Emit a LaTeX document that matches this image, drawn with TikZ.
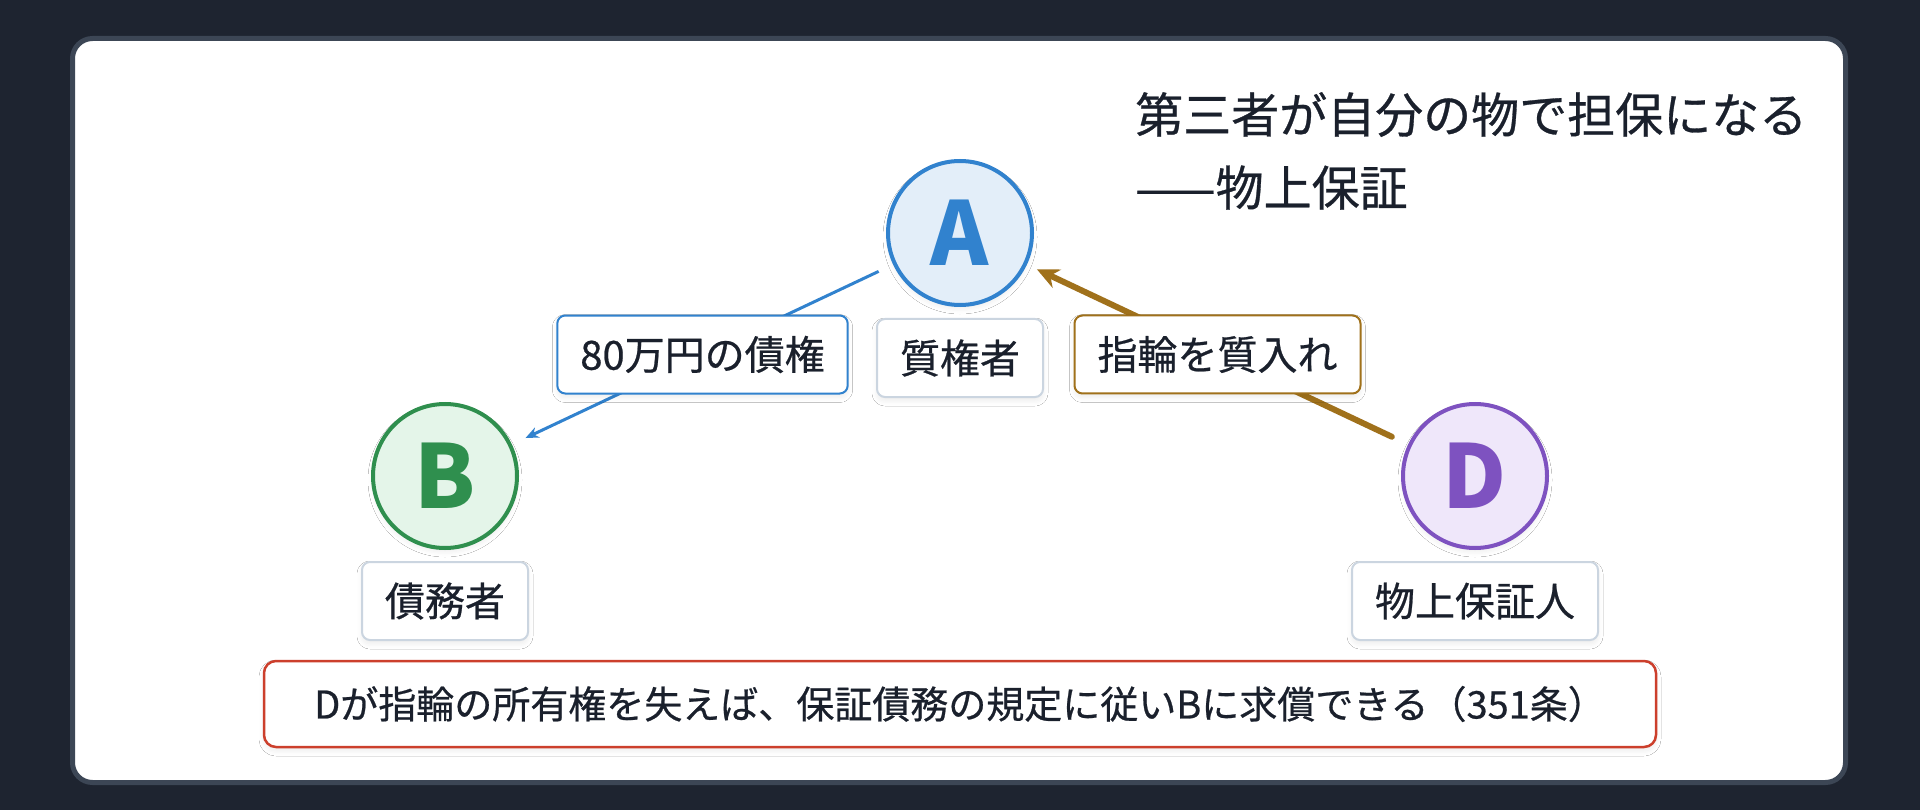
\documentclass[tikz,border=0pt]{standalone}
\usepackage{fontspec}
\setmainfont{Noto Sans CJK JP}
\newfontfamily\jpmedium{Noto Sans CJK JP}[FakeBold=0.6]
\usetikzlibrary{positioning,arrows.meta,shadows.blur}

\definecolor{pagebg}{HTML}{1E2430}
\definecolor{cardedge}{HTML}{3C4655}
\definecolor{ink}{HTML}{1A202C}
\definecolor{ablue}{HTML}{3182CE}
\definecolor{abluefill}{HTML}{E3EEF9}
\definecolor{bgreen}{HTML}{2F8F4E}
\definecolor{bgreenfill}{HTML}{E4F5E9}
\definecolor{dpurple}{HTML}{7E52C0}
\definecolor{dpurplefill}{HTML}{EFE7FA}
\definecolor{pawn}{HTML}{A0711B}
\definecolor{warnred}{HTML}{CC3F2C}
\definecolor{tagedge}{HTML}{CBD5E0}

\tikzset{
  softshadow/.style={blur shadow={shadow xshift=0pt, shadow yshift=-4pt, shadow blur radius=5pt, shadow opacity=7}},
  party/.style={circle, line width=4pt, minimum size=144pt, inner sep=0pt, font=\fontsize{88}{88}\selectfont\bfseries, softshadow},
  roletag/.style={draw=tagedge, fill=white, line width=2pt, rounded corners=8pt, minimum height=78pt, inner xsep=23pt, text=ink, font=\jpmedium\fontsize{40}{40}\selectfont, softshadow},
  edgetag/.style={roletag, midway},
}

\begin{document}
\begin{tikzpicture}[x=1pt, y=-1pt]
  \useasboundingbox (0,0) rectangle (1920,810);
  \fill[pagebg] (0,0) rectangle (1920,810);
  \draw[fill=white, draw=cardedge, line width=5pt, rounded corners=20pt] (72.5,38.5) rectangle (1845.5,782.5);

  % parties
  \node[party, draw=ablue, fill=abluefill, text=ablue] (A) at (960,233) {A};
  \node[party, draw=bgreen, fill=bgreenfill, text=bgreen] (B) at (445,476) {B};
  \node[party, draw=dpurple, fill=dpurplefill, text=dpurple] (D) at (1475,476) {D};

  % claim and pledge
  \draw[ablue, line width=3pt, -{Stealth[length=13pt, width=11pt]}, shorten <=16pt, shorten >=15pt]
    (A) -- node[edgetag, draw=ablue] {80万円の債権} (B);
  \draw[pawn, line width=6pt, line cap=round, -{Stealth[length=22pt, width=20pt]}, shorten <=18pt, shorten >=11pt]
    (D) -- node[edgetag, draw=pawn] {指輪を質入れ} (A);

  \node[roletag, below=11pt of A] (Arole) {質権者};
  \node[roletag, below=11pt of B] (Brole) {債務者};
  \node[roletag, below=11pt of D] (Drole) {物上保証人};

  % title
  \node[anchor=north west, align=left, inner sep=0pt, text=ink, font=\jpmedium\fontsize{48}{73}\selectfont] (title) at (1135,92)
    {第三者が自分の物で担保になる\\——物上保証};

  % note
  \node[draw=warnred, fill=white, line width=2.5pt, rounded corners=12pt, minimum width=1392pt, minimum height=86pt,
        text=ink, font=\jpmedium\fontsize{38}{38}\selectfont, softshadow] (note) at (960,704)
    {Dが指輪の所有権を失えば、保証債務の規定に従いBに求償できる（351条）};
\end{tikzpicture}
\end{document}
